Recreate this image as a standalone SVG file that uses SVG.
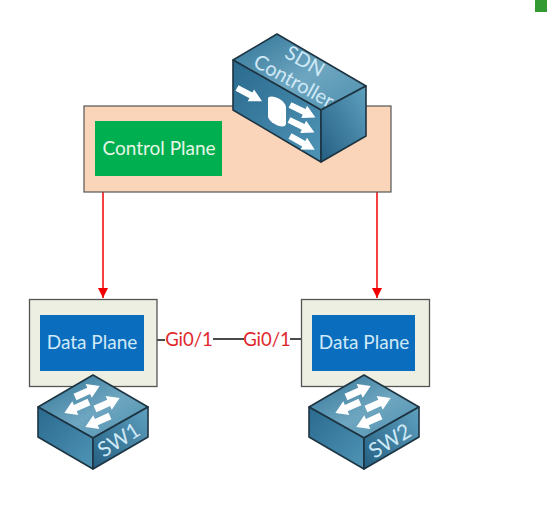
<svg xmlns="http://www.w3.org/2000/svg" width="548" height="506" viewBox="0 0 548 506">
<style>
text{font-family:Lato,"Open Sans",sans-serif}
.w{fill:#cfe9f7;font-size:19px;text-anchor:middle}
.lbl{fill:#e0262b;font-size:18.500px;text-anchor:middle}
.edge{stroke:#1d3442;stroke-width:1.6;stroke-linejoin:round}
.ar{fill:#fff}
.frame{fill:#ecefe1;stroke:#555;stroke-width:1.3}
.blue{fill:#0a6dbd}
</style>
<defs>
<marker id="arrow" markerWidth="12" markerHeight="12" refX="10" refY="5" orient="auto" markerUnits="userSpaceOnUse"><path d="M0,0L10,5L0,10Z" fill="#f00000"/></marker>
<linearGradient id="top" x1="0" y1="0" x2="1" y2="1"><stop offset="0" stop-color="#2f7396"/><stop offset=".55" stop-color="#6ea6c0"/><stop offset="1" stop-color="#4d8fae"/></linearGradient>
<linearGradient id="left" x1="0" y1="0" x2="1" y2="1"><stop offset="0" stop-color="#2a6a8e"/><stop offset="1" stop-color="#4f94b6"/></linearGradient>
<linearGradient id="right" x1="0" y1="1" x2="1" y2="0"><stop offset="0" stop-color="#245f82"/><stop offset="1" stop-color="#5fa0bf"/></linearGradient>
<path id="a" class="ar" d="M0,-3.500H15V-7.500L27,0L15,7.500V3.500H0Z"/>
<g id="sw">
<path class="edge" fill="url(#top)" d="M55,0L110,32L55,63L0,32Z"/>
<path class="edge" fill="url(#left)" d="M0,32L55,63V94L0,62Z"/>
<path class="edge" fill="url(#right)" d="M55,63L110,32V62L55,94Z"/>
<use href="#a" transform="translate(37 22) rotate(-24)"/>
<use href="#a" transform="translate(51 27) rotate(156)"/>
<use href="#a" transform="translate(57 34) rotate(-24)"/>
<use href="#a" transform="translate(72 41) rotate(156)"/>
</g>
</defs>
<rect x="535" y="0" width="12" height="12" fill="#339933"/>
<g id="connectors">
<path d="M103,192V298" stroke="#f00000" stroke-width="1.500" fill="none" marker-end="url(#arrow)"/>
<path d="M377,192V298" stroke="#f00000" stroke-width="1.500" fill="none" marker-end="url(#arrow)"/>
<path d="M157,340H165M213,339H244M290,339H301" stroke="#111" stroke-width="1.600" fill="none"/>
<text class="lbl" x="189" y="346">Gi0/1</text>
<text class="lbl" x="267" y="346">Gi0/1</text>
</g>
<g id="control-plane">
<rect x="84" y="106" width="307" height="86" fill="#fbd5b9" stroke="#555" stroke-width="1.200"/>
<rect x="95" y="121" width="127" height="55" fill="#00b050"/>
<text x="159" y="155" font-size="19" fill="#e6f5e6" text-anchor="middle">Control Plane</text>
</g>
<g id="sdn-controller">
<path class="edge" fill="url(#top)" d="M277,34L366,86L321,110L233,60Z"/>
<path class="edge" fill="url(#left)" d="M233,60L321,110V162L233,110Z"/>
<path class="edge" fill="url(#right)" d="M321,110L366,86V136L321,162Z"/>
<use href="#a" transform="translate(237 88) rotate(28) scale(1.050 .9)"/>
<path class="ar" d="M268,99C268,93 285,99 286,107V124C285,130 270,124 268,117Z"/>
<use href="#a" transform="translate(290 105) rotate(26) scale(1.050 .9)"/>
<use href="#a" transform="translate(289 120) rotate(26) scale(1.050 .9)"/>
<use href="#a" transform="translate(290 136) rotate(29) scale(1.050 .9)"/>
<text class="w" style="font-size:20px" transform="translate(305 61) rotate(30)" y="7">SDN</text>
<text class="w" style="font-size:20px" transform="translate(294 81) rotate(29)" y="7">Controller</text>
</g>
<g id="data-plane-1">
<rect class="frame" x="29.500" y="299.500" width="127.500" height="87"/>
<rect class="blue" x="40" y="315" width="104" height="56"/>
<text class="w" x="92" y="349">Data Plane</text>
</g>
<g id="data-plane-2">
<rect class="frame" x="301.500" y="299.500" width="128" height="87"/>
<rect class="blue" x="312" y="315" width="103" height="56"/>
<text class="w" x="364" y="349">Data Plane</text>
</g>
<g id="sw1">
<use href="#sw" x="38" y="375"/>
<text class="w" style="font-size:21px" transform="translate(119 440) rotate(-32)" y="7">SW1</text>
</g>
<g id="sw2">
<use href="#sw" x="309" y="375"/>
<text class="w" style="font-size:21px" transform="translate(390 441) rotate(-32)" y="7">SW2</text>
</g>
</svg>
